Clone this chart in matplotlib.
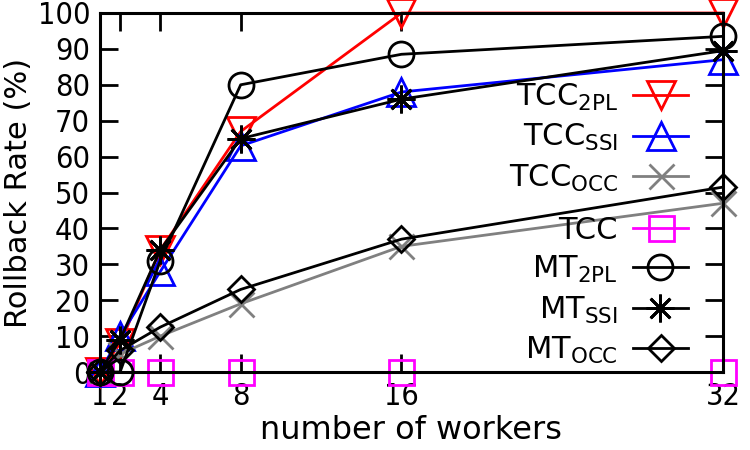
import matplotlib
matplotlib.use("Agg")
import matplotlib.pyplot as plt

plt.rcParams['font.family'] = ['DejaVu Sans']
plt.rcParams['mathtext.default'] = 'regular'

workers = [1, 2, 4, 8, 16, 32]
tcc_2pl = [0, 8, 34, 67, 100, 100]
tcc_ssi = [0, 10, 28, 63, 78, 87]
tcc_occ = [0, 5, 10, 19, 35, 47]
tcc = [0, 0, 0, 0, 0, 0]
mt_2pl = [0, 0, 31, 80, 88.5, 93.5]
mt_ssi = [0, 9, 34, 65, 76, 89.5]
mt_occ = [0, 6, 12.5, 23, 37, 51.5]

labels = ['TCC$_{2PL}$', 'TCC$_{SSI}$', 'TCC$_{OCC}$', 'TCC',
          'MT$_{2PL}$', 'MT$_{SSI}$', 'MT$_{OCC}$']

fig = plt.figure(figsize=(7.5, 4.5), dpi=100)
ax = fig.add_axes([100/750, 1-372/450, 623/750, 359/450])

lw = 2.0
mew = 2.0
series = [
    (tcc_2pl, '#ff0000', 'v', 20),
    (tcc_ssi, '#0000ff', '^', 20),
    (tcc_occ, '#808080', 'x', 18),
    (tcc, '#ff00ff', 's', 18),
    (mt_2pl, '#000000', 'o', 18),
    (mt_ssi, '#000000', (8, 2, 0), 20),
    (mt_occ, '#000000', 'D', 13),
]
handles = []
for (vals, c, m, ms), lab in zip(series, labels):
    h, = ax.plot(workers, vals, color=c, marker=m, markersize=ms, lw=lw,
                 mew=mew, fillstyle='none', label=lab, clip_on=False)
    handles.append(h)

ax.set_xlim(1, 32)
ax.set_ylim(0, 100)
ax.set_xticks(workers)
ax.set_yticks(range(0, 101, 10))
ax.tick_params(direction='in', length=13, width=2, labelsize=22,
               top=True, right=True, pad=7)
for t in ax.get_xticklabels() + ax.get_yticklabels():
    t.set_fontstretch('condensed')
for s in ax.spines.values():
    s.set_linewidth(2.2)
ax.set_xlabel('number of workers', fontsize=23, labelpad=3)
ax.set_ylabel('Rollback Rate (%)', fontsize=22, labelpad=3)

common = dict(loc='upper right', bbox_transform=fig.transFigure,
              frameon=False, markerfirst=False, fontsize=22,
              handlelength=1.8, handletextpad=0.5, labelspacing=0.3,
              borderpad=0, borderaxespad=0)
leg1 = ax.legend(handles[:3], labels[:3],
                 bbox_to_anchor=(688/750, 1-82/450), **common)
ax.add_artist(leg1)
leg2 = ax.legend(handles[3:], labels[3:],
                 bbox_to_anchor=(688/750, 1-216/450), **common)

fig.savefig('out.png', dpi=100)
